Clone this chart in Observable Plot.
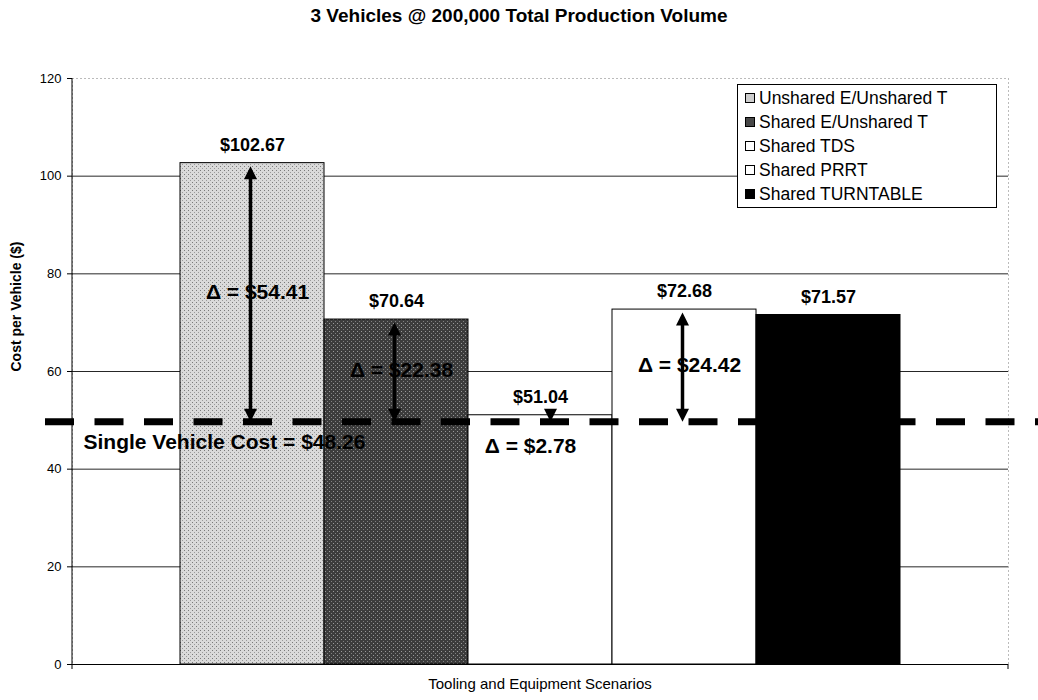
<!DOCTYPE html>
<html>
<head>
<meta charset="utf-8">
<script src="https://cdn.jsdelivr.net/npm/d3@7"></script>
<script src="https://cdn.jsdelivr.net/npm/@observablehq/plot@0.6"></script>
<style>
  body { margin: 0; background: #fff; font-family: Arial, "Liberation Sans", sans-serif; }
  #wrap { position: relative; width: 1038px; height: 700px; overflow: hidden; }
  #title { position: absolute; left: 0; top: 5px; width: 1038px; line-height: 24px; text-align: center; font: bold 19px Arial, "Liberation Sans", sans-serif; color: #000; }
  #chart { position: absolute; left: 0; top: 34px; }
  #xlabel { position: absolute; left: 72px; width: 936px; top: 675px; line-height: 18px; text-align: center; font: 15px Arial, "Liberation Sans", sans-serif; color: #000; }
  #legend { position: absolute; left: 737px; top: 84px; width: 260px; height: 124px; border: 1px solid #000; background: #fff; box-sizing: border-box; padding-top: 1px; }
  .li { height: 24px; display: flex; align-items: center; font: 17.5px Arial, "Liberation Sans", sans-serif; color: #000; padding-left: 7px; white-space: nowrap; }
  .sw { width: 10px; height: 10px; border: 1px solid #000; margin-right: 4px; box-sizing: border-box; flex: none; }
</style>
</head>
<body>
<div id="wrap">
  <div id="title"></div>
  <div id="chart"></div>
  <div id="xlabel"></div>
  <div id="legend"></div>
</div>
<script>
// ---- data ----
const titleText = "3 Vehicles @ 200,000 Total Production Volume";
const xLabel = "Tooling and Equipment Scenarios";
const yLabel = "Cost per Vehicle ($)";
const series = ["Unshared E/Unshared T", "Shared E/Unshared T", "Shared TDS", "Shared PRRT", "Shared TURNTABLE"];
const costs = [102.67, 70.64, 51.04, 72.68, 71.57];
const deltas = [54.41, 22.38, 2.78, 24.42];           // vs single vehicle cost (first four scenarios)
const singleVehicleCost = 48.26;
const drawnLineLevel = 49.7;                            // level at which the dashed line is drawn in the picture
const yTicks = [0, 20, 40, 60, 80, 100, 120];
const gridTicks = [20, 40, 60, 80, 100];
const solidFills = ["#cdcdcd", "#474747", "#ffffff", "#ffffff", "#000000"];
const barFills = ["url(#stippleLight)", "url(#stippleDark)", "#ffffff", "#ffffff", "#000000"];

// ---- derived tables ----
const bars = series.map((s, i) => ({series: s, cost: costs[i]}));
const deltaRows = deltas.map((d, i) => ({
  series: series[i], cost: costs[i], delta: d,
  labelY: costs[i] - drawnLineLevel > 5 ? (costs[i] + drawnLineLevel) / 2 : drawnLineLevel - 5
}));
const longArrows = deltaRows.filter(d => d.cost - drawnLineLevel > 5);
const shortArrows = deltaRows.filter(d => d.cost - drawnLineLevel <= 5);

const triUp = {draw(c, size) { const r = Math.sqrt(size / Math.PI); c.moveTo(0, -r); c.lineTo(r, r); c.lineTo(-r, r); c.closePath(); }};
const triDown = {draw(c, size) { const r = Math.sqrt(size / Math.PI); c.moveTo(0, r); c.lineTo(r, -r); c.lineTo(-r, -r); c.closePath(); }};

const fmt = v => "$" + v.toFixed(2);
const deltaText = d => "\u0394 = " + fmt(d.delta);

const plot = Plot.plot({
  width: 1038,
  height: 640,
  marginTop: 44,
  marginBottom: 10,
  marginLeft: 72,
  marginRight: 30,
  style: {fontFamily: "Arial, 'Liberation Sans', sans-serif", fontSize: "13px", color: "#000", background: "#fff"},
  x: {type: "band", domain: series, paddingInner: 0, paddingOuter: 0.745, axis: null},
  y: {domain: [0, 120], axis: null},
  color: {domain: series, range: barFills},
  marks: [
    Plot.frame({stroke: "#777", strokeDasharray: "1,3"}),
    Plot.gridY(gridTicks, {stroke: "#000", strokeOpacity: 0.85, strokeWidth: 1}),
    Plot.barY(bars, {x: "series", y: "cost", fill: "series", stroke: "#000", strokeWidth: 1}),
    Plot.ruleY([0], {stroke: "#000", strokeWidth: 1}),
    Plot.axisY(yTicks, {tickSize: 5, tickPadding: 6, fontSize: 13, label: null, stroke: "#000"}),
    Plot.ruleY([drawnLineLevel], {stroke: "#000", strokeWidth: 7, strokeDasharray: "29,20.5", insetLeft: -27, insetRight: -30}),
    // value labels
    Plot.text(bars, {x: "series", y: "cost", text: d => fmt(d.cost), dy: -18, fontSize: 18, fontWeight: "bold"}),
    // arrow shafts and heads
    Plot.ruleX(longArrows, {x: "series", y1: "cost", y2: () => drawnLineLevel, stroke: "#000", strokeWidth: 3.5, insetTop: 8, insetBottom: 8, dx: -2}),
    Plot.dot(longArrows, {x: "series", y: "cost", symbol: triUp, r: 6.5, fill: "#000", stroke: "none", dy: 9.5, dx: -2}),
    Plot.dot(longArrows, {x: "series", y: () => drawnLineLevel, symbol: triDown, r: 6.5, fill: "#000", stroke: "none", dy: -6.5, dx: -2}),
    Plot.dot(shortArrows, {x: "series", y: () => drawnLineLevel, symbol: triDown, r: 6.5, fill: "#000", stroke: "none", dy: -6.5, dx: 10}),
    // delta labels
    Plot.text(longArrows, {x: "series", y: "labelY", text: deltaText, fontSize: 21, fontWeight: "bold", dx: 5}),
    Plot.text(shortArrows, {x: "series", y: "labelY", text: deltaText, fontSize: 21, fontWeight: "bold", dx: -10}),
    // single vehicle label
    Plot.text([`Single Vehicle Cost = ${fmt(singleVehicleCost)}`], {frameAnchor: "left", y: () => drawnLineLevel, textAnchor: "start", dx: 11, dy: 20, fontSize: 21, fontWeight: "bold"}),
    // y label
    Plot.text([yLabel], {frameAnchor: "left", y: () => 60, rotate: -90, dx: -56, fontSize: 14, fontWeight: "bold"})
  ]
});

// stipple patterns for the two textured bars
const defs = d3.select(plot).insert("defs", ":first-child");
const pl = defs.append("pattern").attr("id", "stippleLight").attr("patternUnits", "userSpaceOnUse").attr("width", 4).attr("height", 4);
pl.append("rect").attr("width", 4).attr("height", 4).attr("fill", "#dadada");
pl.append("rect").attr("x", 0).attr("y", 0).attr("width", 1).attr("height", 1).attr("fill", "#7a7a7a");
pl.append("rect").attr("x", 2).attr("y", 2).attr("width", 1).attr("height", 1).attr("fill", "#9a9a9a");
const pd = defs.append("pattern").attr("id", "stippleDark").attr("patternUnits", "userSpaceOnUse").attr("width", 4).attr("height", 4);
pd.append("rect").attr("width", 4).attr("height", 4).attr("fill", "#3c3c3c");
pd.append("rect").attr("x", 1).attr("y", 1).attr("width", 1).attr("height", 1).attr("fill", "#9a9a9a");
pd.append("rect").attr("x", 3).attr("y", 3).attr("width", 1).attr("height", 1).attr("fill", "#808080");

// axis lines / category boundary ticks
const ys = plot.scale("y");
const g = d3.select(plot).append("g").attr("stroke", "#000").attr("stroke-width", 1);
g.append("line").attr("x1", 72).attr("x2", 72).attr("y1", ys.range[1]).attr("y2", ys.range[0] + 5);
g.append("line").attr("x1", 1008).attr("x2", 1008).attr("y1", ys.range[0]).attr("y2", ys.range[0] + 5);

document.getElementById("chart").appendChild(plot);
document.getElementById("title").textContent = titleText;
document.getElementById("xlabel").textContent = xLabel;

const legend = document.getElementById("legend");
series.forEach((s, i) => {
  const row = document.createElement("div");
  row.className = "li";
  const sw = document.createElement("span");
  sw.className = "sw";
  sw.style.background = solidFills[i];
  row.appendChild(sw);
  row.appendChild(document.createTextNode(s));
  legend.appendChild(row);
});
</script>
</body>
</html>
